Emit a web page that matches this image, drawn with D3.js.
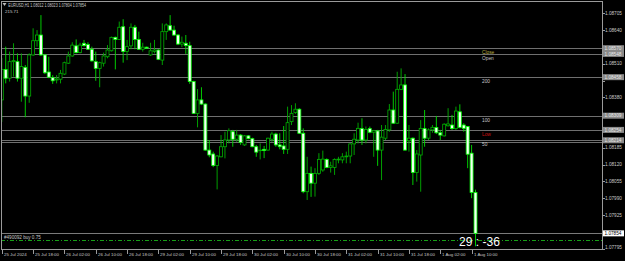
<!DOCTYPE html>
<html><head><meta charset="utf-8">
<script src="https://cdn.jsdelivr.net/npm/d3@7"></script>
<style>html,body{margin:0;padding:0;background:#000;overflow:hidden}svg{display:block}</style>
</head><body><svg id="c" width="625" height="261"></svg>
<script>
// ---------- DATA (EURUSD H1) ----------
const openP = [
1.08370,1.08488,1.08454,1.08518,1.08518,1.08454,1.08496,1.08385,1.08544,1.08599,
1.08621,1.08544,1.08478,1.08456,1.08447,1.08450,1.08470,1.08512,1.08540,1.08579,
1.08553,1.08589,1.08584,1.08566,1.08518,1.08492,1.08512,1.08537,1.08560,1.08612,
1.08604,1.08653,1.08557,1.08579,1.08651,1.08604,1.08566,1.08574,1.08544,1.08557,
1.08563,1.08524,1.08634,1.08657,1.08640,1.08621,1.08586,1.08589,1.08580,1.08441,
1.08318,1.08370,1.08354,1.08176,1.08161,1.08116,1.08150,1.08189,1.08215,1.08247,
1.08218,1.08234,1.08196,1.08231,1.08220,1.08189,1.08174,1.08179,1.08176,1.08218,
1.08238,1.08196,1.08192,1.08179,1.08286,1.08321,1.08334,1.08241,1.08015,1.08086,
1.08048,1.08086,1.08099,1.08140,1.08109,1.08109,1.08138,1.08138,1.08150,1.08153,
1.08200,1.08215,1.08259,1.08215,1.08259,1.08245,1.08250,1.08176,1.08222,1.08254,
1.08331,1.08280,1.08411,1.08428,1.08212,1.08222,1.08089,1.08157,1.08259,1.08222,
1.08254,1.08263,1.08243,1.08231,1.08270,1.08273,1.08259,1.08324,1.08273,1.08267,
1.08164,1.08012];
const highP = [
1.08532,1.08576,1.08557,1.08589,1.08550,1.08550,1.08505,1.08550,1.08647,1.08640,
1.08698,1.08546,1.08537,1.08466,1.08466,1.08486,1.08518,1.08557,1.08593,1.08604,
1.08591,1.08602,1.08593,1.08576,1.08557,1.08518,1.08553,1.08582,1.08615,1.08615,
1.08673,1.08682,1.08602,1.08666,1.08660,1.08634,1.08591,1.08576,1.08591,1.08602,
1.08566,1.08666,1.08666,1.08698,1.08657,1.08625,1.08615,1.08621,1.08595,1.08444,
1.08412,1.08419,1.08357,1.08215,1.08170,1.08157,1.08234,1.08247,1.08260,1.08254,
1.08254,1.08238,1.08234,1.08234,1.08224,1.08196,1.08202,1.08192,1.08224,1.08247,
1.08243,1.08241,1.08269,1.08344,1.08350,1.08357,1.08338,1.08260,1.08150,1.08112,
1.08106,1.08164,1.08174,1.08144,1.08131,1.08144,1.08150,1.08164,1.08170,1.08202,
1.08241,1.08282,1.08299,1.08267,1.08267,1.08254,1.08254,1.08273,1.08273,1.08354,
1.08402,1.08479,1.08492,1.08470,1.08273,1.08225,1.08176,1.08292,1.08331,1.08260,
1.08273,1.08308,1.08254,1.08280,1.08338,1.08312,1.08344,1.08353,1.08280,1.08269,
1.08196,1.08023];
const lowP = [
1.08285,1.08434,1.08441,1.08460,1.08441,1.08363,1.08303,1.08359,1.08540,1.08576,
1.08540,1.08470,1.08454,1.08432,1.08434,1.08434,1.08466,1.08509,1.08537,1.08550,
1.08550,1.08576,1.08563,1.08518,1.08444,1.08419,1.08499,1.08531,1.08557,1.08488,
1.08602,1.08514,1.08524,1.08566,1.08566,1.08563,1.08557,1.08567,1.08540,1.08550,
1.08524,1.08505,1.08602,1.08638,1.08617,1.08582,1.08574,1.08548,1.08432,1.08316,
1.08264,1.08350,1.08174,1.08148,1.08110,1.08024,1.08148,1.08144,1.08202,1.08189,
1.08208,1.08196,1.08192,1.08218,1.08187,1.08150,1.08140,1.08145,1.08174,1.08208,
1.08189,1.08179,1.08161,1.08161,1.08273,1.08316,1.08238,1.08009,1.07983,1.07995,
1.07996,1.08080,1.08092,1.08106,1.08089,1.08080,1.08125,1.08125,1.08125,1.08125,
1.08157,1.08202,1.08196,1.08202,1.08241,1.08150,1.08115,1.08060,1.08215,1.08247,
1.08277,1.08277,1.08408,1.08174,1.08170,1.08041,1.08054,1.08015,1.08189,1.08215,
1.08243,1.08238,1.08215,1.08228,1.08267,1.08254,1.08254,1.08260,1.08247,1.08106,
1.07990,1.07804];
const closeP = [
1.08488,1.08454,1.08518,1.08522,1.08454,1.08499,1.08385,1.08544,1.08599,1.08621,
1.08544,1.08475,1.08458,1.08444,1.08451,1.08473,1.08514,1.08540,1.08582,1.08553,
1.08582,1.08580,1.08566,1.08521,1.08492,1.08514,1.08540,1.08563,1.08612,1.08604,
1.08651,1.08557,1.08576,1.08651,1.08604,1.08566,1.08574,1.08570,1.08560,1.08563,
1.08527,1.08634,1.08660,1.08640,1.08621,1.08586,1.08593,1.08580,1.08441,1.08318,
1.08370,1.08354,1.08176,1.08157,1.08116,1.08153,1.08189,1.08215,1.08251,1.08218,
1.08234,1.08205,1.08231,1.08220,1.08189,1.08168,1.08176,1.08174,1.08222,1.08238,
1.08196,1.08189,1.08179,1.08282,1.08318,1.08334,1.08241,1.08015,1.08086,1.08048,
1.08086,1.08140,1.08141,1.08109,1.08115,1.08140,1.08141,1.08150,1.08153,1.08200,
1.08218,1.08260,1.08215,1.08256,1.08245,1.08251,1.08176,1.08226,1.08256,1.08331,
1.08280,1.08411,1.08428,1.08176,1.08222,1.08089,1.08161,1.08260,1.08222,1.08254,
1.08264,1.08243,1.08234,1.08276,1.08277,1.08259,1.08327,1.08264,1.08260,1.08160,
1.08012,1.07854];

const xTickLabels = ["25 Jul 2024","25 Jul 18:00","26 Jul 02:00","26 Jul 10:00","26 Jul 18:00",
  "29 Jul 02:00","29 Jul 10:00","29 Jul 18:00","30 Jul 02:00","30 Jul 10:00","30 Jul 18:00",
  "31 Jul 02:00","31 Jul 10:00","31 Jul 18:00","1 Aug 02:00","1 Aug 10:00"];
const xTickBars = [0,8,16,24,32,40,48,56,64,72,80,88,96,104,112,120];
const yTicks = [1.08705,1.08640,1.08575,1.08510,1.08445,1.08380,1.08315,1.08250,1.08185,
  1.08120,1.08055,1.07990,1.07925,1.07860,1.07795];
const levelNames  = ["Close","Open","200","100","Low","50",""];
const levelPrices = [1.08570,1.08548,1.08458,1.08309,1.08254,1.08214,1.08206];
const bidPrice = 1.07854;
const orderPrice = 1.07828;
const orderLabel = "#490092 buy 0.75";
const headerText = "EURUSD,H1 1.08012 1.08023 1.07804 1.07854";
const subHeaderText = "215.71";
const timerText = "29 : -36";

// ---------- LAYOUT ----------
const L = 1, R = 602, T = 1, B = 249;
const n = openP.length;
const bars = d3.range(n).map(i => ({i, o: openP[i], h: highP[i], l: lowP[i], c: closeP[i]}));
const x = d3.scaleLinear().domain([0, 121]).range([1.8, 475.5]);
const y = d3.scaleLinear().domain([1.07795, 1.08705]).range([248.6, 13.3]);

const svg = d3.select("#c");
svg.append("rect").attr("width",625).attr("height",261).attr("fill","#000");
svg.append("defs").append("clipPath").attr("id","plot")
  .append("rect").attr("x",L+0.5).attr("y",T).attr("width",R-L-0.5).attr("height",B-T);

const font = "'Liberation Sans', Arial, sans-serif";

// horizontal level lines
const lv = svg.append("g");
lv.selectAll("line").data(levelPrices).join("line")
  .attr("x1",L).attr("x2",R)
  .attr("y1",d=>Math.round(y(d))+0.5).attr("y2",d=>Math.round(y(d))+0.5)
  .attr("stroke","#6f6f6f").attr("stroke-width",1);
const levelColor = n => n==="Close" ? "#b8b040" : (n==="Low" ? "#d01010" : "#c8c8c8");
const named = levelNames.map((nm,i)=>({nm, p: levelPrices[i]})).filter(d=>d.nm!=="");
lv.selectAll("text").data(named).join("text")
  .attr("x",482).attr("y",d=>Math.round(y(d.p))+5.5)
  .attr("font-family",font).attr("font-size",4.8)
  .attr("fill",d=>levelColor(d.nm)).text(d=>d.nm);

// bid line
svg.append("line").attr("x1",L).attr("x2",R)
  .attr("y1",Math.round(y(bidPrice))+0.5).attr("y2",Math.round(y(bidPrice))+0.5)
  .attr("stroke","#7a7a7a").attr("stroke-width",1);

// order line (dash-dot)
svg.append("line").attr("x1",L).attr("x2",R)
  .attr("y1",Math.round(y(orderPrice))+0.5).attr("y2",Math.round(y(orderPrice))+0.5)
  .attr("stroke","#16a016").attr("stroke-width",1).attr("stroke-dasharray","4,2,1,2");
svg.append("text").attr("x",4).attr("y",Math.round(y(orderPrice))-1.5)
  .attr("font-family",font).attr("font-size",4.6).attr("fill","#c8c8c8").text(orderLabel);

// candles
const cg = svg.append("g").attr("clip-path","url(#plot)");
const bw = 3;
const up = d => d.c >= d.o;
cg.selectAll("line.w").data(bars).join("line").attr("class","w")
  .attr("x1",d=>x(d.i)).attr("x2",d=>x(d.i))
  .attr("y1",d=>y(d.h)).attr("y2",d=>y(d.l))
  .attr("stroke",d=>up(d)?"#00b000":"#00e000").attr("stroke-width",0.9);
cg.selectAll("rect.b").data(bars).join("rect").attr("class","b")
  .attr("x",d=>x(d.i)-bw/2).attr("width",bw)
  .attr("y",d=>y(Math.max(d.o,d.c)))
  .attr("height",d=>Math.max(0.6, Math.abs(y(d.o)-y(d.c))))
  .attr("fill",d=>up(d)?"#000":"#f4fff4")
  .attr("stroke",d=>up(d)?"#00b000":"#00ff00").attr("stroke-width",0.8);

// frame
svg.append("rect").attr("x",L+0.5).attr("y",T+0.5).attr("width",R-L).attr("height",B-T)
  .attr("fill","none").attr("stroke","#9a9a9a").attr("stroke-width",1);

// price boxes: one per distinct level (levels closer than 4px share a box)
const boxPrices = [];
levelPrices.forEach(p => { if (!boxPrices.some(q => Math.abs(y(q)-y(p)) < 4)) boxPrices.push(p); });
const allBoxes = boxPrices.concat([bidPrice]);

// right price axis (labels hidden under boxes are not drawn, as in the terminal)
const visibleTicks = yTicks.filter(t => !allBoxes.some(b => Math.abs(y(b)-Math.min(y(t),247.5)) < 5.5));
const ya = svg.append("g");
ya.selectAll("line").data(yTicks).join("line")
  .attr("x1",R).attr("x2",R+3).attr("y1",d=>Math.round(y(d))+0.5).attr("y2",d=>Math.round(y(d))+0.5)
  .attr("stroke","#9a9a9a");
ya.selectAll("text").data(visibleTicks).join("text")
  .attr("x",605).attr("y",d=>Math.min(y(d),247.5)).attr("dy","0.35em")
  .attr("font-family",font).attr("font-size",4.7).attr("fill","#c8c8c8")
  .text(d=>d.toFixed(5));

const bx = svg.append("g");
bx.selectAll("rect").data(boxPrices).join("rect")
  .attr("x",603).attr("y",d=>y(d)-3).attr("width",21).attr("height",6).attr("fill","#8a8a8a");
bx.selectAll("text").data(boxPrices).join("text")
  .attr("x",604.5).attr("y",d=>y(d)).attr("dy","0.35em")
  .attr("font-family",font).attr("font-size",4.7).attr("fill","#e6e6e6")
  .text(d=>d.toFixed(5));
// bid box
svg.append("rect").attr("x",603).attr("y",y(bidPrice)-3).attr("width",21).attr("height",6).attr("fill","#fff");
svg.append("text").attr("x",604.5).attr("y",y(bidPrice)).attr("dy","0.35em")
  .attr("font-family",font).attr("font-size",4.7).attr("fill","#000").text(bidPrice.toFixed(5));

// time axis
const xa = svg.append("g");
xa.selectAll("line").data(xTickBars).join("line")
  .attr("x1",d=>Math.round(x(d))+0.5).attr("x2",d=>Math.round(x(d))+0.5)
  .attr("y1",B).attr("y2",B+5).attr("stroke","#9a9a9a");
xa.selectAll("text").data(xTickLabels).join("text")
  .attr("x",(d,i)=>Math.round(x(xTickBars[i]))+2).attr("y",256)
  .attr("font-family",font).attr("font-size",4.4).attr("fill","#c8c8c8").text(d=>d);

// header
svg.append("path").attr("d","M2.5,3 L6.5,3 L4.5,6 Z").attr("fill","#bbbbbb");
svg.append("text").attr("x",8.3).attr("y",7).attr("font-family",font).attr("font-size",4.6)
  .attr("fill","#c8c8c8").attr("textLength",77.7).attr("lengthAdjust","spacingAndGlyphs").text(headerText);
svg.append("text").attr("x",5).attr("y",13).attr("font-family",font).attr("font-size",4.4)
  .attr("fill","#c8c8c8").text(subHeaderText);

// timer
svg.append("text").attr("x",459).attr("y",246).attr("font-family",font).attr("font-size",13)
  .attr("fill","#ffffff").attr("textLength",41).attr("lengthAdjust","spacingAndGlyphs").text(timerText);
</script></body></html>
